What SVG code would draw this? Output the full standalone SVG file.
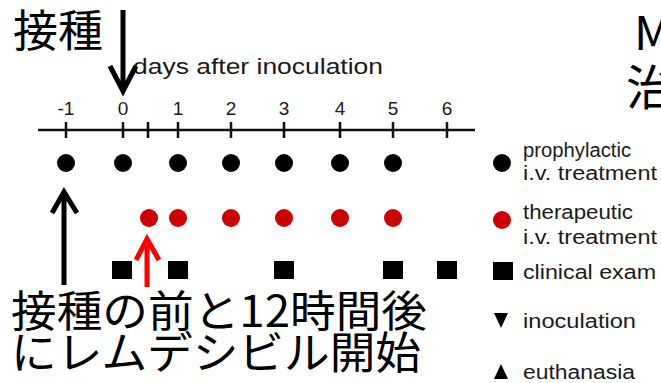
<svg xmlns="http://www.w3.org/2000/svg" width="661" height="383" viewBox="0 0 661 383">
<style>
.en{font-family:"Liberation Sans",Arial,sans-serif;fill:#1a1a1a}
.jp{font-family:"Noto Sans CJK JP","Noto Sans",sans-serif;fill:#000}
.tick{font-size:19px;text-anchor:middle}
.leg{font-size:20px}
.axis{stroke:#111;stroke-width:2.5;fill:none}
.bd{fill:#000}
.rd{fill:#cc0000}
.sq{fill:#000}
.arr{stroke-width:5;fill:none;stroke-linejoin:miter;stroke-linecap:butt}
</style>
<rect width="661" height="383" fill="#fff"/>
<g id="axis">
<line class="axis" x1="38" y1="130" x2="475" y2="130"/>
<path class="axis" d="M66 122V138M123 122V138M148 122V138M178 122V138M231 122V138M284 122V138M340 122V138M393 122V138M447 122V138"/>
<g class="en tick">
<text x="66" y="115">-1</text>
<text x="123" y="115">0</text>
<text x="178" y="115">1</text>
<text x="231" y="115">2</text>
<text x="284" y="115">3</text>
<text x="340" y="115">4</text>
<text x="393" y="115">5</text>
<text x="447" y="115">6</text>
</g>
<text class="en" x="133" y="74" font-size="22" textLength="250" lengthAdjust="spacingAndGlyphs">days after inoculation</text>
</g>
<g id="prophylactic">
<circle class="bd" cx="66" cy="163" r="9"/>
<circle class="bd" cx="123" cy="163" r="9"/>
<circle class="bd" cx="178" cy="163" r="9"/>
<circle class="bd" cx="231" cy="163" r="9"/>
<circle class="bd" cx="284" cy="163" r="9"/>
<circle class="bd" cx="340" cy="163" r="9"/>
<circle class="bd" cx="393" cy="163" r="9"/>
</g>
<g id="therapeutic">
<circle class="rd" cx="149" cy="218" r="9"/>
<circle class="rd" cx="178" cy="218" r="9"/>
<circle class="rd" cx="231" cy="218" r="9"/>
<circle class="rd" cx="284" cy="218" r="9"/>
<circle class="rd" cx="340" cy="218" r="9"/>
<circle class="rd" cx="393" cy="218" r="9"/>
</g>
<g id="clinical">
<rect class="sq" x="112" y="261" width="20" height="18"/>
<rect class="sq" x="168" y="261" width="20" height="18"/>
<rect class="sq" x="274" y="261" width="20" height="18"/>
<rect class="sq" x="383" y="261" width="20" height="18"/>
<rect class="sq" x="437" y="261" width="20" height="18"/>
</g>
<g id="legend">
<circle class="bd" cx="502" cy="163" r="9"/>
<text class="en leg" x="523" y="157" textLength="108" lengthAdjust="spacingAndGlyphs">prophylactic</text>
<text class="en leg" x="523" y="180" textLength="134" lengthAdjust="spacingAndGlyphs">i.v. treatment</text>
<circle class="rd" cx="502" cy="220" r="9"/>
<text class="en leg" x="523" y="219" textLength="110" lengthAdjust="spacingAndGlyphs">therapeutic</text>
<text class="en leg" x="523" y="244" textLength="134" lengthAdjust="spacingAndGlyphs">i.v. treatment</text>
<rect class="sq" x="493" y="262" width="20" height="18"/>
<text class="en leg" x="523" y="279" textLength="133" lengthAdjust="spacingAndGlyphs">clinical exam</text>
<polygon class="bd" points="494,313 508,313 501,328"/>
<text class="en leg" x="523" y="328" textLength="113" lengthAdjust="spacingAndGlyphs">inoculation</text>
<polygon class="bd" points="494,379 508,379 501,364"/>
<text class="en leg" x="523" y="379" textLength="112" lengthAdjust="spacingAndGlyphs">euthanasia</text>
</g>
<g id="connectors">
<path class="arr" stroke="#000" d="M123 10V90M110 66L123 91L136 66"/>
<path class="arr" stroke="#000" d="M64 193V285M52 213L64 192L77 213"/>
<path class="arr" stroke="#ff0000" d="M147 240V287M136 260L147 239L159 260"/>
</g>
<g id="annotations" class="jp">
<text x="13" y="47" font-size="44" textLength="90" lengthAdjust="spacingAndGlyphs">接種</text>
<text x="11" y="327" font-size="43" textLength="416" lengthAdjust="spacingAndGlyphs">接種の前と12時間後</text>
<text x="11" y="369" font-size="44" textLength="410" lengthAdjust="spacingAndGlyphs">にレムデシビル開始</text>
<text x="634" y="50" font-size="47">M</text>
<text x="626" y="105" font-size="48">治</text>
</g>
</svg>
